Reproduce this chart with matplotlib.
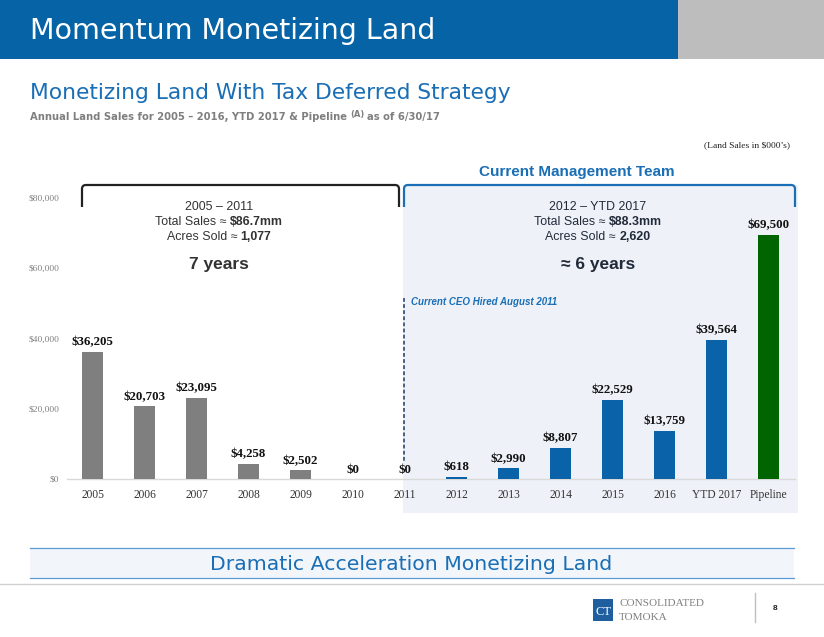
import matplotlib
matplotlib.use("Agg")
import matplotlib.pyplot as plt
from matplotlib.patches import Rectangle, PathPatch
from matplotlib.path import Path
from matplotlib.ticker import FuncFormatter

W, H = 824, 637

categories = ['2005', '2006', '2007', '2008', '2009', '2010', '2011',
              '2012', '2013', '2014', '2015', '2016', 'YTD 2017', 'Pipeline']
sales = [36205, 20703, 23095, 4258, 2502, 0, 0,
         618, 2990, 8807, 22529, 13759, 39564, 69500]
groups = ['prior'] * 7 + ['current'] * 6 + ['pipeline']
yticks = [0, 20000, 40000, 60000, 80000]

group_colors = {'prior': '#7f7f7f', 'current': '#0a62a8', 'pipeline': '#006400'}
BLUE = '#0563a6'
SANS = ['Liberation Sans', 'DejaVu Sans']
SERIF = ['Liberation Serif', 'DejaVu Serif']
HEAD = ['DejaVu Sans']

fig = plt.figure(figsize=(W / 100, H / 100), dpi=100)
renderer = fig.canvas.get_renderer()


def fx(x):
    return x / W


def fy(y):
    return 1 - y / H


def ftext(x, y, s, **kw):
    return fig.text(fx(x), fy(y), s, **kw)


def frect(x0, y0, x1, y1, **kw):
    r = Rectangle((fx(x0), fy(y1)), (x1 - x0) / W, (y1 - y0) / H,
                  transform=fig.transFigure, **kw)
    fig.patches.append(r)
    return r


def fline(xs, ys, **kw):
    fig.add_artist(plt.Line2D([fx(x) for x in xs], [fy(y) for y in ys],
                              transform=fig.transFigure, **kw))


def bracket(x0, x1, ytop, ybot, color, r=4):
    verts = [(x0, ybot), (x0, ytop + r), (x0, ytop), (x0 + r, ytop),
             (x1 - r, ytop), (x1, ytop), (x1, ytop + r), (x1, ybot)]
    codes = [Path.MOVETO, Path.LINETO, Path.CURVE3, Path.CURVE3,
             Path.LINETO, Path.CURVE3, Path.CURVE3, Path.LINETO]
    p = Path([(fx(x), fy(y)) for x, y in verts], codes)
    fig.add_artist(PathPatch(p, fill=False, edgecolor=color, lw=1.6,
                             transform=fig.transFigure, capstyle='butt'))


def mixed(xc, y, parts, size, color):
    # parts: list of (text, weight); drawn centred on xc, one space apart
    texts, widths = [], []
    for s, w in parts:
        t = ftext(0, y, s, fontsize=size, fontweight=w, family=SANS,
                  color=color, ha='left', va='center')
        widths.append(t.get_window_extent(renderer=renderer).width)
        texts.append(t)
    space = size * 100 / 72 * 0.3
    x = xc - (sum(widths) + space * (len(parts) - 1)) / 2
    for t, w in zip(texts, widths):
        t.set_x(fx(x))
        x += w + space


# header band
frect(0, 0, 678, 59, facecolor=BLUE, edgecolor='none', zorder=-2)
frect(678, 0, W, 59, facecolor='#bdbdbd', edgecolor='none', zorder=-2)
ftext(30, 31, 'Momentum Monetizing Land', fontsize=20.5, family=HEAD,
      color='white', va='center', ha='left')

ftext(30, 93, 'Monetizing Land With Tax Deferred Strategy', fontsize=15.7,
      family=HEAD, color='#1a6eb5', va='center', ha='left')

# subtitle with superscript
t1 = ftext(30, 117, 'Annual Land Sales for 2005 \u2013 2016, YTD 2017 & Pipeline',
           fontsize=7.2, family=HEAD, fontweight='bold', color='#7f7f7f',
           va='center', ha='left')
x = 30 + t1.get_window_extent(renderer=renderer).width + 3
t2 = ftext(x, 114, '(A)', fontsize=6, family=HEAD, fontweight='bold',
           color='#7f7f7f', va='center', ha='left')
x += t2.get_window_extent(renderer=renderer).width + 3
ftext(x, 117, 'as of 6/30/17', fontsize=7.2, family=HEAD, fontweight='bold',
      color='#7f7f7f', va='center', ha='left')

ftext(790, 145, '(Land Sales in $000\u2019s)', fontsize=6.8, family=SERIF,
      color='#222222', va='center', ha='right')

# current management shaded panel
frect(403, 185, 798, 513, facecolor='#eef2f8', edgecolor='none', zorder=-1)
bracket(82, 399, 185, 207, '#222222')
bracket(404, 795, 185, 207, '#1a6eb5')
ftext(577, 172, 'Current Management Team', fontsize=11, family=SANS,
      fontweight='bold', color='#1a6eb5', va='center', ha='center')

mixed(219, 207, [('2005 \u2013 2011', 'normal')], 8.9, '#333333')
mixed(219, 222, [('Total Sales \u2248', 'normal'), ('$86.7mm', 'bold')], 8.9, '#333333')
mixed(219, 237, [('Acres Sold \u2248', 'normal'), ('1,077', 'bold')], 8.9, '#333333')
ftext(219, 265, '7 years', fontsize=12.5, family=SANS, fontweight='bold',
      color='#333333', va='center', ha='center')

mixed(598, 207, [('2012 \u2013 YTD 2017', 'normal')], 8.9, '#222a3a')
mixed(598, 222, [('Total Sales \u2248', 'normal'), ('$88.3mm', 'bold')], 8.9, '#222a3a')
mixed(598, 237, [('Acres Sold \u2248', 'normal'), ('2,620', 'bold')], 8.9, '#222a3a')
ftext(598, 265, '\u2248 6 years', fontsize=12.5, family=SANS, fontweight='bold',
      color='#222a3a', va='center', ha='center')

fline([404, 404], [298, 462], color='#1f3864', lw=1.1, ls=(0, (2.5, 1.5)))
ftext(411, 302, 'Current CEO Hired August 2011', fontsize=7, family=SANS,
      fontweight='bold', style='italic', color='#1a6eb5', va='center', ha='left')

# chart
ax = fig.add_axes([66.5 / W, 1 - 479 / H, 728 / W, 281 / H])
ax.set_facecolor('none')
xpos = range(len(categories))
bars = ax.bar(xpos, sales, width=0.4,
              color=[group_colors[g] for g in groups], zorder=3)
ax.bar_label(bars, labels=[f'${v:,}' for v in sales], padding=2.5,
             fontsize=9.3, fontweight='bold', family=SERIF, color='#111111')
ax.set_xlim(-0.5, len(categories) - 0.5)
ax.set_ylim(0, 80000)
ax.set_yticks(yticks)
ax.yaxis.set_major_formatter(FuncFormatter(lambda v, p: f'${v:,.0f}'))
ax.set_xticks(list(xpos))
ax.set_xticklabels(categories)
for lab in ax.get_xticklabels():
    lab.set_fontfamily(SERIF)
    lab.set_fontsize(8.3)
    lab.set_color('#333333')
for lab in ax.get_yticklabels():
    lab.set_fontfamily(SERIF)
    lab.set_fontsize(6.8)
    lab.set_color('#808080')
ax.tick_params(axis='both', length=0)
ax.tick_params(axis='x', pad=7)
ax.tick_params(axis='y', pad=5)
for side in ['top', 'right', 'left']:
    ax.spines[side].set_visible(False)
ax.spines['bottom'].set_color('#d9d9d9')
ax.spines['bottom'].set_linewidth(1)

# bottom banner
frect(30, 548, 794, 578, facecolor='#f2f6fb', edgecolor='none', zorder=-1)
fline([30, 794], [548, 548], color='#5b9bd5', lw=0.9)
fline([30, 794], [578, 578], color='#5b9bd5', lw=0.9)
ftext(411, 564, 'Dramatic Acceleration Monetizing Land', fontsize=14.7,
      family=HEAD, color='#1a6eb5', va='center', ha='center')
fline([0, W], [584, 584], color='#d0d0d0', lw=1)

# footer logo
frect(593, 599, 613, 621, facecolor='#1f5fa0', edgecolor='none', zorder=1)
ftext(603, 612, 'CT', fontsize=9, family=SERIF, color='white',
      va='center', ha='center')
ftext(619, 604, 'CONSOLIDATED', fontsize=8, family=SERIF, color='#7f7f7f',
      va='center', ha='left')
ftext(619, 617, 'TOMOKA', fontsize=8, family=SERIF, color='#7f7f7f',
      va='center', ha='left')
fline([755, 755], [593, 622], color='#bfbfbf', lw=1)
ftext(775, 608, '8', fontsize=6, family=SANS, fontweight='bold',
      color='#222222', va='center', ha='center')

fig.savefig('out.png', dpi=100)
